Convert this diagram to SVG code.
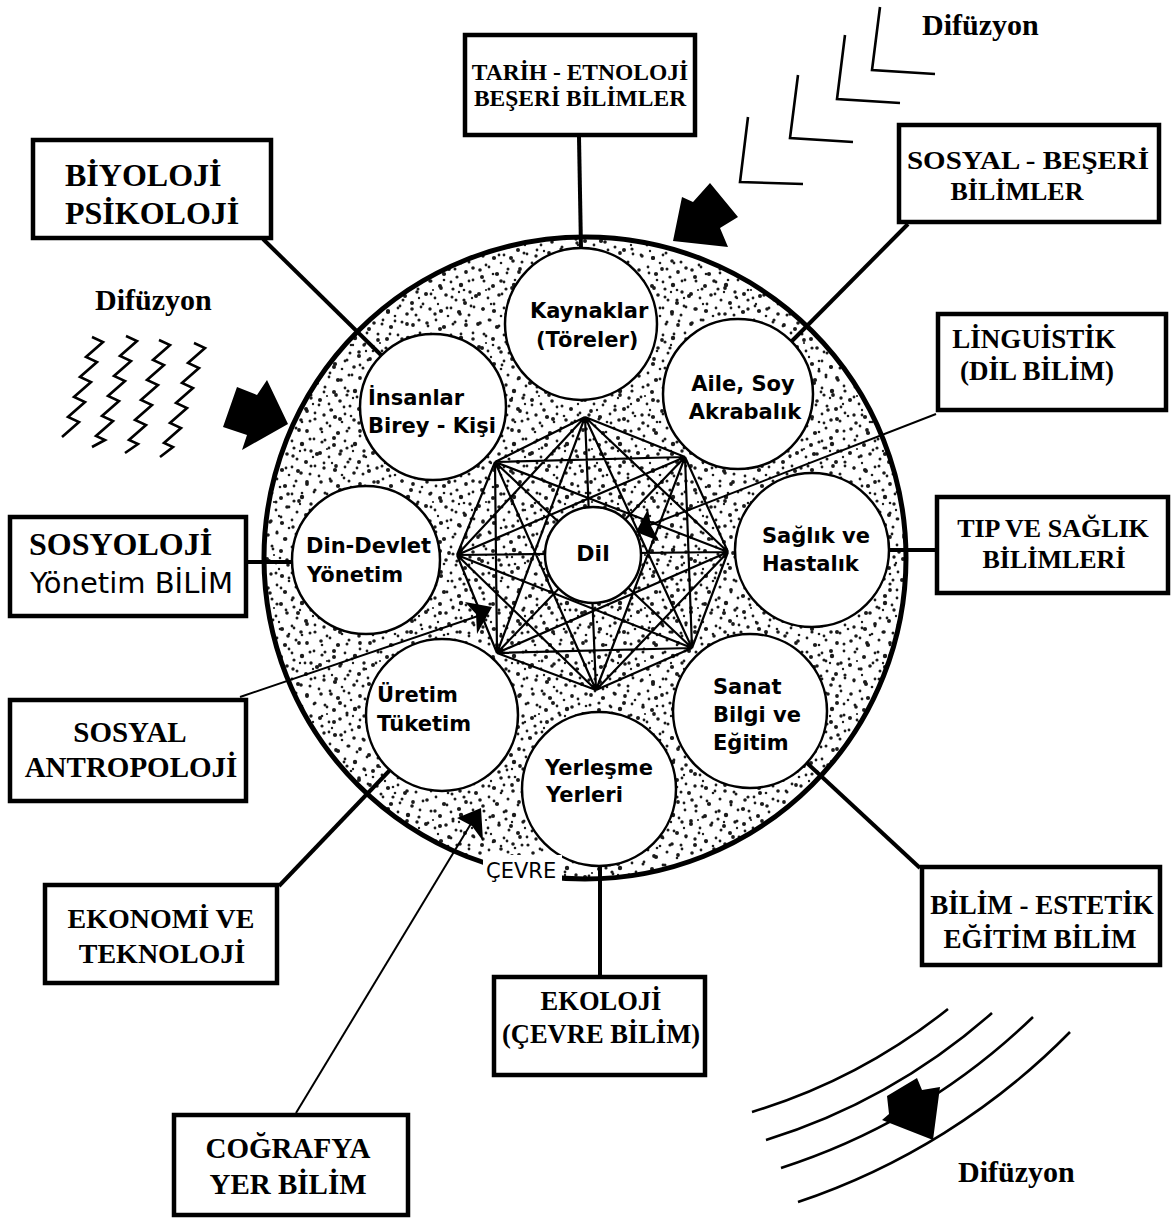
<svg xmlns="http://www.w3.org/2000/svg" width="1172" height="1222" viewBox="0 0 1172 1222">
<style>
.box rect{fill:#fff;stroke:#000;stroke-width:4.5}
.bt{font-family:"Liberation Serif","Times New Roman",serif;font-weight:bold;fill:#000}
.ct{font-family:"DejaVu Sans",sans-serif;font-weight:bold;font-size:21px;fill:#000}
.node circle{fill:#fff;stroke:#000;stroke-width:2.5}
.thick{stroke:#000;stroke-width:4;fill:none;stroke-linecap:butt}
.thin{stroke:#000;stroke-width:2;fill:none}
.deco{stroke:#000;stroke-width:2.6;fill:none;stroke-linejoin:miter}
.diff{font-family:"Liberation Serif","Times New Roman",serif;font-weight:bold;font-size:30px;fill:#000}
</style>
<defs>
<pattern id="dotsA" width="53" height="53" patternUnits="userSpaceOnUse">
<g fill="#1a1a1a">
<circle cx="3" cy="5" r="1.8"/><circle cx="12" cy="2" r="1.4"/><circle cx="20" cy="9" r="2.1"/><circle cx="31" cy="4" r="1.5"/><circle cx="42" cy="7" r="1.9"/><circle cx="49" cy="15" r="1.4"/><circle cx="7" cy="16" r="1.5"/><circle cx="16" cy="21" r="2"/><circle cx="27" cy="17" r="1.4"/><circle cx="37" cy="20" r="2.2"/><circle cx="46" cy="27" r="1.7"/><circle cx="2" cy="29" r="2"/><circle cx="11" cy="33" r="1.4"/><circle cx="22" cy="30" r="1.8"/><circle cx="32" cy="35" r="1.5"/><circle cx="41" cy="38" r="2"/><circle cx="50" cy="42" r="1.4"/><circle cx="6" cy="44" r="1.7"/><circle cx="17" cy="46" r="2.1"/><circle cx="27" cy="43" r="1.4"/><circle cx="36" cy="49" r="1.8"/><circle cx="45" cy="50" r="1.5"/><circle cx="24" cy="51" r="1.3"/><circle cx="14" cy="39" r="1.2"/><circle cx="35" cy="27" r="1.2"/><circle cx="9" cy="25" r="1.1"/><circle cx="29" cy="24" r="1.6"/><circle cx="48" cy="33" r="1.2"/>
</g>
</pattern>
<pattern id="dotsB" width="71" height="71" patternUnits="userSpaceOnUse">
<g fill="#1a1a1a">
<circle cx="5" cy="10" r="1.4"/><circle cx="15" cy="4" r="1.9"/><circle cx="26" cy="13" r="1.5"/><circle cx="38" cy="6" r="1.3"/><circle cx="50" cy="12" r="2"/><circle cx="63" cy="5" r="1.5"/><circle cx="68" cy="20" r="1.4"/><circle cx="57" cy="25" r="1.8"/><circle cx="45" cy="22" r="1.4"/><circle cx="33" cy="28" r="2.1"/><circle cx="21" cy="24" r="1.4"/><circle cx="9" cy="30" r="1.7"/><circle cx="2" cy="42" r="1.4"/><circle cx="14" cy="45" r="2"/><circle cx="27" cy="40" r="1.5"/><circle cx="40" cy="37" r="1.4"/><circle cx="52" cy="40" r="1.9"/><circle cx="64" cy="36" r="1.6"/><circle cx="60" cy="52" r="1.4"/><circle cx="47" cy="55" r="1.8"/><circle cx="35" cy="50" r="1.4"/><circle cx="23" cy="56" r="1.9"/><circle cx="10" cy="60" r="1.4"/><circle cx="4" cy="68" r="1.8"/><circle cx="18" cy="67" r="1.3"/><circle cx="31" cy="64" r="1.6"/><circle cx="43" cy="68" r="1.4"/><circle cx="56" cy="64" r="2"/><circle cx="67" cy="61" r="1.3"/><circle cx="38" cy="16" r="1.6"/>
</g>
</pattern>
</defs>
<rect width="1172" height="1222" fill="#fff"/>

<g id="diffusion">
<text class="diff" x="922" y="35">Difüzyon</text>
<text class="diff" x="95" y="310">Difüzyon</text>
<text class="diff" x="958" y="1182">Difüzyon</text>
<polyline class="deco" points="880,7 872,70 935,74"/>
<polyline class="deco" points="845,35 837,99 900,103"/>
<polyline class="deco" points="798,75 790,138 853,142"/>
<polyline class="deco" points="748,117 740,182 803,184"/>
<polygon fill="#000" points="673,241 682,197 693,202 710,183 738,217 720,228 728,247"/>
<polyline class="deco" points="92,337 103,342 86,357 97,362 80,377 91,382 74,397 85,402 68,417 79,422 62,437"/>
<polyline class="deco" points="126,336 137,341 120,356 131,361 114,376 125,381 108,396 119,401 102,416 113,421 96,436 105,440 92,447"/>
<polyline class="deco" points="159,340 170,345 153,360 164,365 147,380 158,385 141,400 152,405 135,420 146,425 129,440 138,444 125,453"/>
<polyline class="deco" points="194,343 205,348 188,363 199,368 182,383 193,388 176,403 187,408 170,423 181,428 164,443 173,447 160,457"/>
<polygon fill="#000" points="223,427 237,387 257,395 267,380 288,424 242,450 247,435"/>
<path class="deco" d="M752,1112 A588,588 0 0 0 948,1009"/>
<path class="deco" d="M766,1140 A619,619 0 0 0 992,1013"/>
<path class="deco" d="M781,1168 A650,650 0 0 0 1033,1017"/>
<path class="deco" d="M798,1202 A688,688 0 0 0 1070,1032"/>
<polygon fill="#000" points="887,1096 917,1078 922,1090 940,1087 933,1140 882,1120 889,1114"/>
</g>

<g id="environment">
<circle cx="585" cy="558" r="321" fill="url(#dotsA)"/>
<circle cx="585" cy="558" r="321" fill="url(#dotsB)"/>
</g>

<g id="star" stroke="#000" stroke-width="2.2" fill="none">
<path d="M585 417L685 457M585 417L728 552M585 417L692 648M585 417L596 690M585 417L497 653M585 417L457 555M585 417L495 462M685 457L728 552M685 457L692 648M685 457L596 690M685 457L497 653M685 457L457 555M685 457L495 462M728 552L692 648M728 552L596 690M728 552L497 653M728 552L457 555M728 552L495 462M692 648L596 690M692 648L497 653M692 648L457 555M692 648L495 462M596 690L497 653M596 690L457 555M596 690L495 462M497 653L457 555M497 653L495 462M457 555L495 462"/>
</g>

<g id="connectors">
<line class="thick" x1="579" y1="137" x2="581" y2="249"/>
<line class="thick" x1="263" y1="239" x2="381" y2="355"/>
<line class="thick" x1="908" y1="224" x2="792" y2="341"/>
<line class="thick" x1="889" y1="550" x2="936" y2="550"/>
<line class="thick" x1="246" y1="562" x2="292" y2="562"/>
<line class="thick" x1="279" y1="886" x2="390" y2="770"/>
<line class="thick" x1="600" y1="866" x2="600" y2="976"/>
<line class="thick" x1="920" y1="868" x2="807" y2="763"/>
<line class="thin" x1="936" y1="414" x2="650" y2="525"/>
<polygon fill="#000" points="636,532 648,509 651,526 659,541"/>
<line class="thin" x1="240" y1="697" x2="478" y2="616"/>
<polygon fill="#000" points="492,607 465,602 476,614 477,634"/>
<line class="thin" x1="296" y1="1113" x2="472" y2="822"/>
<polygon fill="#000" points="481,808 457,818 472,826 483,841"/>
</g>

<g id="n-kaynaklar" class="node"><circle cx="581" cy="324" r="76"/><text class="ct" x="530" y="318">Kaynaklar</text><text class="ct" x="536" y="347">(Töreler)</text></g>
<g id="n-aile" class="node"><circle cx="738" cy="394" r="75"/><text class="ct" x="743" y="391" text-anchor="middle">Aile, Soy</text><text class="ct" x="745" y="419" text-anchor="middle">Akrabalık</text></g>
<g id="n-saglik" class="node"><circle cx="812" cy="550" r="77"/><text class="ct" x="762" y="543">Sağlık ve</text><text class="ct" x="762" y="571">Hastalık</text></g>
<g id="n-sanat" class="node"><circle cx="750" cy="711" r="77"/><text class="ct" x="713" y="694">Sanat</text><text class="ct" x="713" y="722">Bilgi ve</text><text class="ct" x="713" y="750">Eğitim</text></g>
<g id="n-yerlesme" class="node"><circle cx="599" cy="789" r="77"/><text class="ct" x="545" y="775">Yerleşme</text><text class="ct" x="546" y="802">Yerleri</text></g>
<g id="n-uretim" class="node"><circle cx="442" cy="715" r="76"/><text class="ct" x="377" y="702">Üretim</text><text class="ct" x="377" y="731">Tüketim</text></g>
<g id="n-din" class="node"><circle cx="366" cy="560" r="74"/><text class="ct" x="306" y="553">Din-Devlet</text><text class="ct" x="307" y="582">Yönetim</text></g>
<g id="n-insanlar" class="node"><circle cx="433" cy="407" r="73"/><text class="ct" x="368" y="405">İnsanlar</text><text class="ct" x="368" y="433">Birey - Kişi</text></g>
<g id="n-dil" class="node"><circle cx="593" cy="555" r="48"/><text class="ct" x="593" y="561" text-anchor="middle" style="font-size:22px">Dil</text></g>

<g id="boundary">
<circle cx="585" cy="558" r="321" fill="none" stroke="#000" stroke-width="5"/>
<rect x="483" y="855" width="79" height="28" fill="#fff"/>
<text x="486" y="878" font-family="DejaVu Sans, sans-serif" font-size="21">ÇEVRE</text>
<line class="thick" x1="600" y1="870" x2="600" y2="890"/>
</g>

<g id="b-tarih" class="box"><rect x="465" y="35" width="230" height="100"/><text class="bt" font-size="23.5" x="580" y="80" text-anchor="middle">TARİH - ETNOLOJİ</text><text class="bt" font-size="23.5" x="580" y="106" text-anchor="middle">BEŞERİ BİLİMLER</text></g>
<g id="b-biyoloji" class="box"><rect x="33" y="140" width="238" height="98"/><text class="bt" font-size="32" x="65" y="186">BİYOLOJİ</text><text class="bt" font-size="32" x="65" y="224">PSİKOLOJİ</text></g>
<g id="b-sosyal" class="box"><rect x="899" y="125" width="260" height="97"/><text class="bt" font-size="26" x="907" y="169" textLength="242" lengthAdjust="spacingAndGlyphs">SOSYAL - BEŞERİ</text><text class="bt" font-size="26" x="1017" y="200" text-anchor="middle">BİLİMLER</text></g>
<g id="b-linguistik" class="box"><rect x="938" y="314" width="228" height="96"/><text class="bt" font-size="27" x="1034" y="348" text-anchor="middle">LİNGUİSTİK</text><text class="bt" font-size="27" x="1037" y="380" text-anchor="middle">(DİL BİLİM)</text></g>
<g id="b-tip" class="box"><rect x="937" y="497" width="231" height="96"/><text class="bt" font-size="26" x="1053" y="537" text-anchor="middle">TIP VE SAĞLIK</text><text class="bt" font-size="26" x="1054" y="568" text-anchor="middle">BİLİMLERİ</text></g>
<g id="b-sosyoloji" class="box"><rect x="10" y="517" width="236" height="99"/><text class="bt" font-size="32" x="29" y="555">SOSYOLOJİ</text><text x="30" y="593" font-family="DejaVu Sans, sans-serif" font-size="29">Yönetim BİLİM</text></g>
<g id="b-antropoloji" class="box"><rect x="10" y="700" width="236" height="101"/><text class="bt" font-size="29" x="130" y="742" text-anchor="middle">SOSYAL</text><text class="bt" font-size="29" x="131" y="777" text-anchor="middle">ANTROPOLOJİ</text></g>
<g id="b-ekonomi" class="box"><rect x="45" y="885" width="232" height="98"/><text class="bt" font-size="28" x="161" y="928" text-anchor="middle">EKONOMİ VE</text><text class="bt" font-size="28" x="162" y="963" text-anchor="middle">TEKNOLOJİ</text></g>
<g id="b-ekoloji" class="box"><rect x="494" y="977" width="211" height="98"/><text class="bt" font-size="26.5" x="601" y="1010" text-anchor="middle">EKOLOJİ</text><text class="bt" font-size="26.5" x="601" y="1043" text-anchor="middle">(ÇEVRE BİLİM)</text></g>
<g id="b-bilim" class="box"><rect x="922" y="867" width="238" height="98"/><text class="bt" font-size="27" x="1042" y="914" text-anchor="middle">BİLİM - ESTETİK</text><text class="bt" font-size="27" x="1040" y="948" text-anchor="middle">EĞİTİM BİLİM</text></g>
<g id="b-cografya" class="box"><rect x="174" y="1115" width="234" height="100"/><text class="bt" font-size="29" x="288" y="1158" text-anchor="middle">COĞRAFYA</text><text class="bt" font-size="29" x="288" y="1194" text-anchor="middle">YER BİLİM</text></g>
</svg>
